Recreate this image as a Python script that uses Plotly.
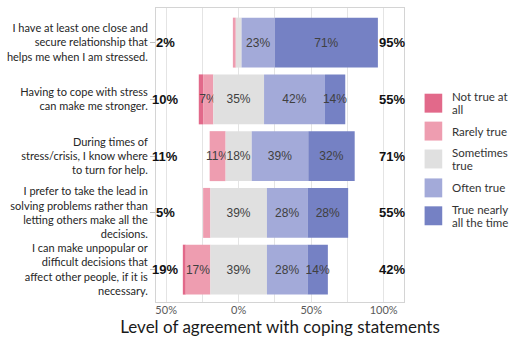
import plotly.graph_objects as go

# Survey statements (top to bottom) and response shares in percent
statements = [
    "I have at least one close and<br>secure relationship that<br>helps me when I am stressed.",
    "Having to cope with stress<br>can make me stronger.",
    "During times of<br>stress/crisis, I know where<br>to turn for help.",
    "I prefer to take the lead in<br>solving problems rather than<br>letting others make all the<br>decisions.",
    "I can make unpopular or<br>difficult decisions that<br>affect other people, if it is<br>necessary.",
]
not_true = [0, 3, 0, 0, 2]
rarely_true = [2, 7, 11, 5, 17]
sometimes_true = [4, 35, 18, 39, 39]
often_true = [23, 42, 39, 28, 28]
true_nearly = [71, 14, 32, 28, 14]

# Reported totals for disagreement (left) and agreement (right)
disagree_total = [2, 10, 11, 5, 19]
agree_total = [95, 55, 71, 55, 42]

x_tick_vals = [-50, -25, 0, 25, 50, 75, 100]
x_tick_text = ["50%", "", "0%", "", "50%", "", "100%"]

categories = ["Not true at all", "Rarely true", "Sometimes true", "Often true", "True nearly all the time"]
legend_lines = [["Not true at", "all"], ["Rarely true"], ["Sometimes", "true"], ["Often true"], ["True nearly", "all the time"]]
colors = ["#e2698a", "#ee9db0", "#e0e0e0", "#a3aad9", "#7581c4"]

W, H = 518, 345
M_L, M_R, M_T, M_B = 151, 114, 7, 43

# Neutral responses are centred on zero; the rest stack outward
half = [s / 2 for s in sometimes_true]
base_sometimes = [-h for h in half]
base_rarely = [-h - r for h, r in zip(half, rarely_true)]
base_not = [-h - r - n for h, r, n in zip(half, rarely_true, not_true)]
base_often = list(half)
base_true = [h + o for h, o in zip(half, often_true)]

series = [
    (not_true, base_not),
    (rarely_true, base_rarely),
    (sometimes_true, base_sometimes),
    (often_true, base_often),
    (true_nearly, base_true),
]

fig = go.Figure()
for (vals, base), name, col in zip(series, categories, colors):
    fig.add_trace(go.Bar(
        y=statements, x=vals, base=base, orientation="h", name=name,
        marker=dict(color=col, line=dict(width=0)),
        width=0.88,
        text=[f"{v}%" if v >= 7 else "" for v in vals],
        textposition="inside", insidetextanchor="middle", textangle=0,
        textfont=dict(family="Liberation Sans, Arial", size=12, color="#404040"),
        showlegend=False, hoverinfo="skip",
    ))

annotations = []
for stmt, d, a in zip(statements, disagree_total, agree_total):
    annotations.append(dict(x=-50.5, y=stmt, xref="x", yref="y", text=f"<b>{d}%</b>",
                            showarrow=False, xanchor="center",
                            font=dict(family="Liberation Sans, Arial", size=13, color="#111111")))
    annotations.append(dict(x=106, y=stmt, xref="x", yref="y", text=f"<b>{a}%</b>",
                            showarrow=False, xanchor="center",
                            font=dict(family="Liberation Sans, Arial", size=13, color="#111111")))

plot_w = W - M_L - M_R
plot_h = H - M_T - M_B


def px_x(px):
    return (px - M_L) / plot_w


def px_y(py):
    return (H - M_B - py) / plot_h


shapes = []
sw_tops = [93, 121, 149, 178, 206]
for top, col, lines in zip(sw_tops, colors, legend_lines):
    shapes.append(dict(type="rect", xref="paper", yref="paper",
                       x0=px_x(425), x1=px_x(443), y0=px_y(top + 19), y1=px_y(top),
                       fillcolor=col, line=dict(width=0)))
    mid = top + 9.5
    n = len(lines)
    for j, line in enumerate(lines):
        yy = mid + (j - (n - 1) / 2) * 12.5
        annotations.append(dict(x=px_x(451), y=px_y(yy), xref="paper", yref="paper",
                                text=line, showarrow=False, xanchor="left", yanchor="middle",
                                font=dict(family="Lato, Open Sans", size=11.5, color="#333333")))

fig.update_layout(
    width=W, height=H,
    margin=dict(l=M_L, r=M_R, t=M_T, b=M_B),
    paper_bgcolor="white", plot_bgcolor="white",
    barmode="overlay",
    uniformtext=dict(minsize=12, mode="show"),
    annotations=annotations,
    shapes=shapes,
    xaxis=dict(
        range=[-57, 114], tickvals=x_tick_vals, ticktext=x_tick_text,
        showgrid=True, gridcolor="#e4e4e4", gridwidth=1, zeroline=False,
        showline=True, mirror=True, linecolor="#d4d4d4", linewidth=1,
        ticks="", ticklabelstandoff=-2,
        tickfont=dict(family="Lato, Open Sans", size=11, color="#595959"),
        title=dict(text="Level of agreement with coping statements",
                   font=dict(family="Lato, Open Sans", size=17, color="#1a1a1a"), standoff=4),
    ),
    yaxis=dict(
        categoryorder="array", categoryarray=statements,
        range=[4.57, -0.61],
        showline=True, mirror=True, linecolor="#d4d4d4", linewidth=1,
        ticks="outside", ticklen=5, tickcolor="#bfbfbf",
        showgrid=False,
        tickfont=dict(family="Lato, Open Sans", size=11, color="#262626"),
    ),
)

fig.write_html("out.html")
